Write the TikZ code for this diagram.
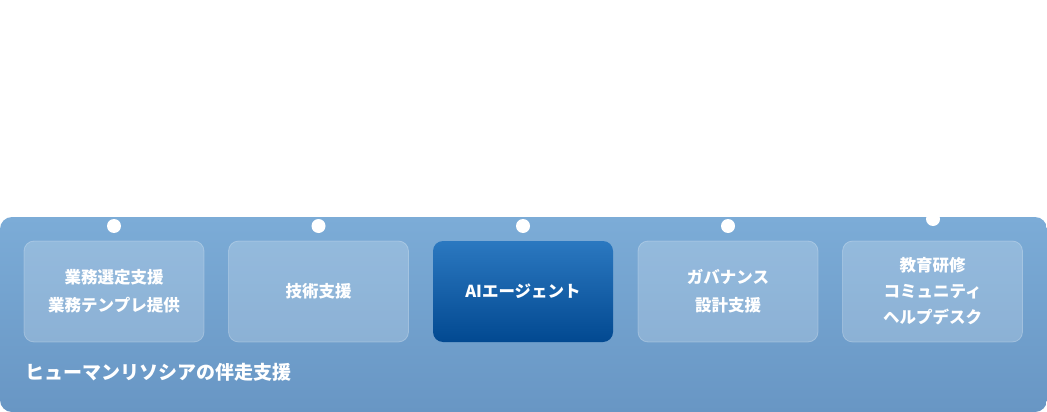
\documentclass[tikz,border=0pt]{standalone}
\usepackage{fontspec}
\newfontfamily\jp{Noto Sans CJK JP}
\definecolor{paneltop}{RGB}{124,172,215}
\definecolor{panelbot}{RGB}{104,150,196}
\definecolor{aitop}{RGB}{43,120,192}
\definecolor{aibot}{RGB}{2,73,145}
\tikzset{
  card/.style={rounded corners=10pt, minimum width=180pt, minimum height=101pt,
    fill=white, fill opacity=0.2, draw=white, draw opacity=0.25, line width=0.8pt,
    text opacity=1, text=white, align=center, inner sep=0pt,
    font=\jp\bfseries\fontsize{16.5pt}{28pt}\selectfont},
  aicard/.style={rounded corners=10pt, minimum width=180pt, minimum height=101pt,
    top color=aitop, bottom color=aibot, draw=none,
    text=white, align=center, inner sep=0pt,
    font=\jp\bfseries\fontsize{16.5pt}{28pt}\selectfont},
  dot/.style={circle, fill=white, minimum size=14pt, inner sep=0pt, draw=none},
}
\begin{document}
\begin{tikzpicture}[x=1pt,y=-1pt]
\useasboundingbox (0,0) rectangle (1047,412);
\fill[white] (0,0) rectangle (1047,412);
\shade[top color=paneltop, bottom color=panelbot, rounded corners=12pt] (0,217) rectangle (1047,412);
\node[card] (b1) at (114,291.5) {業務選定支援\\業務テンプレ提供};
\node[card] (b2) at (318.5,291.5) {技術支援};
\node[aicard] (b3) at (523,291.5) {AIエージェント};
\node[card] (b4) at (728,291.5) {ガバナンス\\設計支援};
\node[card, font=\jp\bfseries\fontsize{16.5pt}{26pt}\selectfont] (b5) at (932.5,291.5) {教育研修\\コミュニティ\\ヘルプデスク};
\begin{scope}
\clip (0,217) rectangle (1047,412);
\node[dot] (d1) at (114,226) {};
\node[dot] (d2) at (318.5,226) {};
\node[dot] (d3) at (523,226) {};
\node[dot] (d4) at (728,226) {};
\node[dot] (d5) at (933,219) {};
\end{scope}
\node[anchor=west, text=white, inner sep=0pt, font=\jp\bfseries\fontsize{19pt}{22pt}\selectfont] (lbl) at (25,372) {ヒューマンリソシアの伴走支援};
\end{tikzpicture}
\end{document}
